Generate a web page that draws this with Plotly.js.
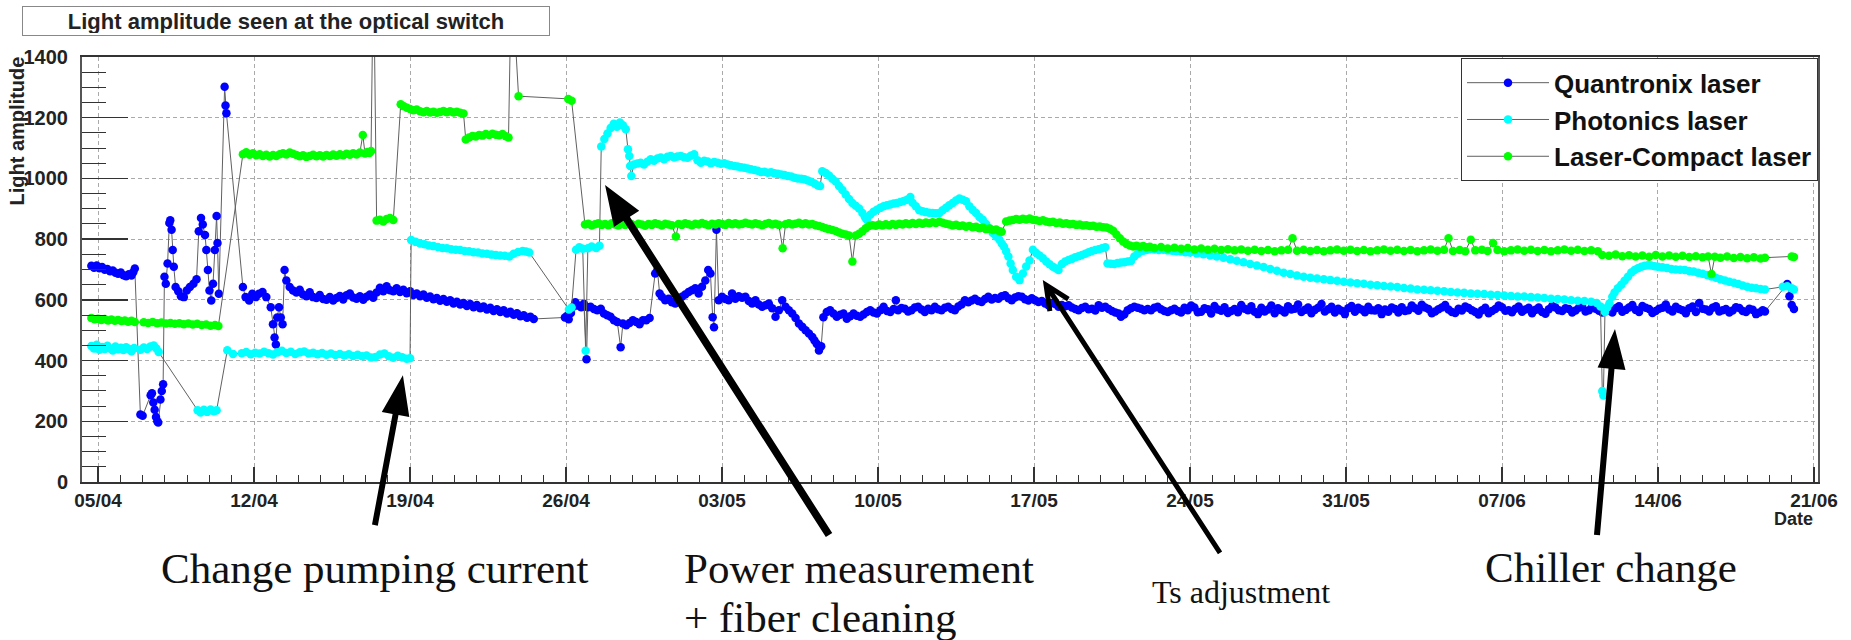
<!DOCTYPE html>
<html><head><meta charset="utf-8">
<script src="https://cdn.plot.ly/plotly-3.0.1.min.js"></script>
<style>html,body{margin:0;padding:0;background:#fff}#chart{width:1851px;height:640px}</style>
</head><body><div id="chart"></div>
<script>
// ---------- DATA (day offset from 05/04, light amplitude) ----------
const startDate = [2010, 3, 5];           // 05/04
const weekTickDays = [0,7,14,21,28,35,42,49,56,63,70,77];
const weekTickText = ['05/04','12/04','19/04','26/04','03/05','10/05','17/05','24/05','31/05','07/06','14/06','21/06'];
const ampTicks = [0,200,400,600,800,1000,1200,1400];
const seriesNames = ['Quantronix laser','Photonics laser','Laser-Compact laser'];

const quantronix = [
[-0.30,712],[-0.18,706],[-0.06,713],[0.06,704],[0.18,708],[0.30,699],[0.42,702],[0.54,694],[0.66,697],[0.78,689],[0.90,686],[1.02,690],[1.14,681],[1.26,678],[1.38,684],[1.50,680],[1.58,691],[1.65,703],
[1.90,222],[2.00,218],[2.36,286],[2.42,292],[2.48,262],[2.54,238],[2.60,214],[2.66,200],[2.70,196],[2.80,272],[2.86,300],[2.92,322],
[2.98,676],[3.04,653],[3.12,720],[3.20,853],[3.24,862],[3.30,831],[3.35,764],[3.40,709],[3.48,642],[3.60,628],[3.72,612],[3.85,609],[3.98,631],[4.12,642],[4.28,653],[4.42,668],[4.52,826],[4.62,870],[4.70,848],[4.80,814],[4.86,764],[4.93,698],[5.00,631],[5.08,598],[5.16,653],[5.24,764],[5.32,876],[5.36,787],[5.42,620],[5.68,1302],[5.72,1240],[5.76,1215],
[6.50,642],[6.62,609],[6.78,598],[6.92,620],[7.08,609],[7.22,620],[7.38,626],[7.55,609],[7.75,576],[7.85,520],[7.92,476],[7.98,453],[8.04,542],[8.12,576],[8.20,542],[8.28,520],[8.37,698],[8.45,664],[8.60,642],[8.75,631],[8.90,624],[9.05,633],[9.20,618],[9.35,612],[9.50,625],[9.65,609],[9.80,606],[9.95,616],[10.10,603],[10.25,600],[10.40,609],[10.55,598],[10.70,606],[10.85,613],[11.00,601],[11.15,615],[11.30,621],[11.45,608],[11.60,604],[11.75,612],[11.90,600],[12.05,610],[12.20,618],[12.35,607],[12.50,624],[12.65,640],[12.80,628],[12.95,645],[13.10,632],[13.25,628],[13.40,638],[13.55,626],[13.70,633],[13.85,622],[14.00,628],[14.15,616],[14.30,621],[14.45,612],[14.60,618],[14.75,607],[14.90,611],[15.05,602],[15.20,606],[15.35,597],[15.50,603],[15.65,594],[15.80,599],[15.95,588],[16.10,594],[16.25,585],[16.40,590],[16.55,580],[16.70,586],[16.85,576],[17.00,583],[17.15,572],[17.30,578],[17.45,568],[17.60,574],[17.75,563],[17.90,569],[18.05,560],[18.20,566],[18.35,555],[18.50,561],[18.65,551],[18.80,556],[18.95,546],[19.10,549],[19.25,541],[19.40,544],[19.55,537],
[20.95,542],[21.05,548],[21.12,536],[21.22,557],[21.32,577],[21.42,592],[21.55,581],[21.68,576],[21.80,587],[21.92,404],[21.98,576],[22.10,577],[22.25,570],[22.40,566],[22.56,571],[22.70,555],[22.85,549],[23.00,544],[23.15,533],[23.30,527],[23.45,444],[23.55,522],[23.70,516],[23.85,524],[24.00,533],[24.15,527],[24.30,520],[24.45,533],[24.60,533],[24.75,540],[25.00,687],[25.10,698],[25.20,621],[25.30,610],[25.45,599],[25.60,604],[25.75,592],[25.90,588],[26.05,596],[26.20,610],[26.35,618],[26.50,626],[26.65,632],[26.80,638],[26.95,621],[27.10,643],[27.25,664],[27.38,698],[27.48,687],[27.58,543],[27.64,510],[27.75,831],[27.85,599],[28.00,610],[28.15,603],[28.30,599],[28.45,621],[28.60,604],[28.75,612],[28.90,607],[29.05,610],[29.20,596],[29.35,588],[29.50,599],[29.65,585],[29.80,577],[29.95,582],[30.10,588],[30.25,572],[30.40,544],[30.55,566],[30.70,599],[30.85,577],[31.00,566],[31.15,555],[31.30,540],[31.45,522],[31.60,511],[31.75,500],[31.90,489],[32.05,478],[32.15,466],[32.25,455],[32.35,433],[32.45,447],[32.55,543],[32.70,560],[32.85,566],[33.00,555],[33.15,544],[33.30,551],[33.45,555],[33.60,538],[33.75,546],[33.90,555],[34.05,548],[34.20,544],[34.35,552],[34.50,560],[34.65,566],[34.80,558],[34.95,555],[35.10,566],[35.25,577],[35.40,563],[35.55,560],[35.70,570],[35.80,599],[35.90,566],[36.05,573],[36.20,571],[36.35,562],[36.50,566],[36.65,575],[36.80,577],[36.95,568],[37.10,560],[37.25,571],[37.40,566],[37.55,577],[37.70,569],[37.85,566],[38.00,574],[38.15,577],[38.30,570],[38.45,566],[38.60,578],[38.75,585],[38.90,599],[39.05,592],[39.20,598],[39.35,604],[39.50,596],[39.65,593],[39.80,603],[39.95,610],[40.10,601],[40.25,606],[40.40,604],[40.55,612],[40.70,615],[40.85,605],[41.00,599],[41.15,608],[41.30,612],[41.45,610],[41.60,602],[41.75,598],[41.90,605],[42.05,599],[42.20,593],[42.35,596],[42.50,588],[42.65,582],[42.80,590],[42.95,586],[43.10,577],[43.25,583],[43.40,579],[43.55,582],[43.70,575],[43.85,570],[44.00,566],[44.15,573],[44.30,577],[44.45,569],[44.60,571],[44.75,565],[44.90,582],[45.05,574],[45.20,577],[45.35,570],[45.50,563],[45.65,558],[45.80,555],[45.90,544],[46.05,552],[46.20,566],[46.35,572],[46.50,577],[46.65,574],[46.80,571],[46.95,566],[47.10,570],[47.25,566],[47.40,574],[47.55,577],[47.70,569],[47.85,563],[48.00,560],[48.15,566],
[48.30,571],[48.45,563],[48.60,558],[48.75,574],[48.90,566],[49.05,581],[49.20,575],[49.35,559],[49.50,561],[49.65,572],[49.80,569],[49.95,555],[50.10,580],[50.25,568],[50.40,564],[50.55,576],[50.70,557],[50.85,563],[51.00,570],[51.15,559],[51.30,583],[51.45,571],[51.60,566],[51.75,579],[51.90,561],[52.05,553],[52.20,574],[52.35,562],[52.50,568],[52.65,581],[52.80,556],[52.95,572],[53.10,566],[53.25,558],[53.40,579],[53.55,568],[53.70,571],[53.85,585],[54.00,560],[54.15,567],[54.30,575],[54.45,556],[54.60,567],[54.75,574],[54.90,586],[55.05,562],[55.20,569],[55.35,577],[55.50,558],[55.65,571],[55.80,564],[55.95,553],[56.10,572],[56.25,580],[56.40,561],[56.55,574],[56.70,568],[56.85,559],[57.00,577],[57.15,566],[57.30,565],[57.45,572],[57.60,553],[57.75,568],[57.90,561],[58.05,575],[58.20,570],[58.35,558],[58.50,576],[58.65,563],[58.80,566],[58.95,581],[59.10,572],[59.25,564],[59.40,584],[59.55,575],[59.70,570],[59.85,556],[60.00,562],[60.15,569],[60.30,575],[60.45,583],[60.60,568],[60.75,560],[60.90,557],[61.05,571],[61.20,565],[61.35,578],[61.50,573],[61.65,566],[61.80,560],[61.95,552],[62.10,566],[62.25,574],[62.40,556],[62.55,563],[62.70,570],[62.85,581],[63.00,576],[63.15,564],[63.30,566],[63.45,559],[63.60,571],[63.75,578],[63.90,561],[64.05,568],[64.20,574],[64.35,556],[64.50,567],[64.65,575],[64.80,560],[64.95,554],[65.10,569],[65.25,580],[65.40,575],[65.55,566],[65.70,563],[65.85,572],[66.00,570],[66.15,558],[66.30,565],[66.45,574],[66.60,577],[66.75,562],[66.90,566],[67.05,579],[67.20,571],[67.35,564],[67.50,558],
[67.65,569],[67.80,566],[67.95,558],[68.10,572],[68.25,579],[68.40,561],[68.55,567],[68.70,575],[68.85,583],[69.00,567],[69.15,560],[69.30,580],[69.45,574],[69.60,570],[69.75,557],[69.90,563],[70.05,571],[70.20,574],[70.35,585],[70.50,568],[70.65,562],[70.80,577],[70.95,570],[71.10,566],[71.25,556],[71.40,572],[71.55,578],[71.70,560],[71.85,590],[72.00,571],[72.15,568],[72.30,562],[72.45,574],[72.60,579],[72.75,562],[72.90,566],[73.05,570],[73.20,558],[73.35,565],[73.50,576],[73.65,573],[73.80,563],[73.95,560],[74.10,571],[74.25,567],[74.40,553],[74.55,558],[74.70,566],[74.80,562],
[75.8,652],[75.9,612],[76.0,583],[76.1,570]
];

const photonics = [
[-0.30,448],[-0.18,440],[-0.06,452],[0.06,436],[0.18,445],[0.30,438],[0.42,449],[0.54,440],[0.66,433],[0.78,446],[0.90,437],[1.02,442],[1.14,435],[1.26,444],[1.38,438],[1.50,431],[1.62,441],
[1.90,436],[2.05,443],[2.20,438],[2.35,446],[2.50,450],[2.62,440],[2.72,428],
[4.47,236],[4.60,229],[4.75,238],[4.90,231],[5.05,239],[5.20,233],[5.32,236],
[5.80,434],[6.06,422],
[6.45,424],[6.65,428],[6.85,421],[7.05,426],[7.25,423],[7.45,429],[7.65,424],[7.85,420],[8.05,427],[8.25,432],[8.45,425],[8.65,429],[8.85,422],[9.05,427],[9.25,430],[9.45,423],[9.65,426],[9.85,421],[10.05,425],[10.25,419],[10.45,423],[10.65,418],[10.85,422],[11.05,417],[11.25,421],[11.45,415],[11.65,419],[11.85,414],[12.05,417],[12.25,410],[12.45,412],[12.65,420],[12.85,423],[13.05,414],[13.25,409],[13.45,416],[13.65,411],[13.85,406],[14.00,408],
[14.05,797],[14.25,791],[14.45,786],[14.65,783],[14.85,779],[15.05,777],[15.25,774],[15.45,771],[15.65,770],[15.85,767],[16.05,765],[16.25,764],[16.45,761],[16.65,760],[16.85,757],[17.05,756],[17.25,753],[17.45,752],[17.65,749],[17.85,748],[18.05,746],[18.25,745],[18.45,743],[18.65,752],[18.85,758],[19.05,761],[19.20,759],[19.35,756],
[21.13,568],[21.25,575],[21.45,765],[21.60,773],[21.75,768],[21.88,432],[21.98,770],[22.15,776],[22.35,771],[22.50,778],[22.58,1105],[22.72,1130],[22.86,1148],[23.00,1166],[23.14,1180],[23.28,1170],[23.42,1184],[23.55,1175],[23.68,1162],[23.78,1096],[23.84,1074],[23.88,1041],[23.93,1008],[24.05,1046],[24.20,1049],[24.35,1052],[24.50,1046],[24.65,1055],[24.80,1063],[24.95,1058],[25.10,1066],[25.25,1069],[25.40,1063],[25.55,1071],[25.70,1074],[25.85,1069],[26.00,1072],[26.15,1074],[26.30,1070],[26.45,1068],[26.60,1075],[26.75,1080],[26.90,1060],[27.05,1052],[27.20,1058],[27.35,1056],[27.50,1050],[27.65,1054],[27.80,1052],[27.95,1048],[28.10,1050],[28.25,1046],[28.40,1043],[28.55,1041],[28.70,1039],[28.85,1037],[29.00,1035],[29.15,1033],[29.30,1030],[29.45,1028],[29.60,1025],[29.75,1021],[29.90,1022],[30.05,1019],[30.20,1020],[30.35,1017],[30.50,1015],[30.65,1013],[30.80,1011],[30.95,1008],[31.10,1006],[31.25,1002],[31.40,1000],[31.55,999],[31.70,997],[31.85,993],[32.00,989],[32.15,983],[32.30,977],[32.40,975],
[32.50,1024],[32.65,1018],[32.80,1010],[32.95,999],[33.10,990],[33.25,975],[33.40,962],[33.55,947],[33.70,932],[33.85,919],[34.00,910],[34.15,901],[34.30,886],[34.42,872],[34.50,864],[34.65,880],[34.80,890],[34.95,897],[35.10,903],[35.25,908],[35.40,912],[35.55,914],[35.70,917],[35.85,919],[36.00,922],[36.15,926],[36.30,930],[36.45,939],[36.55,920],[36.70,908],[36.85,895],[37.00,892],[37.15,889],[37.30,887],[37.45,886],[37.60,885],[37.75,886],[37.90,895],[38.05,903],[38.20,912],[38.35,919],[38.50,927],[38.65,934],[38.80,930],[38.95,925],[39.10,908],[39.25,896],[39.40,886],[39.55,873],[39.70,864],[39.85,850],[40.00,836],[40.15,820],[40.30,809],[40.45,798],[40.55,786],[40.65,776],[40.75,760],[40.85,743],[40.95,720],[41.05,698],[41.20,676],[41.35,665],[41.50,687],[41.65,710],[41.80,730],[41.95,765],[42.10,754],[42.25,746],[42.40,737],[42.55,726],[42.70,717],[42.85,709],[43.00,703],[43.10,698],[43.25,718],[43.40,726],[43.55,731],[43.70,735],[43.85,740],[44.00,744],[44.15,748],[44.30,752],[44.45,757],[44.60,761],[44.75,764],[44.90,767],[45.05,770],[45.20,773],[45.30,720],[45.45,719],[45.60,718],[45.75,721],[45.90,723],[46.05,724],[46.20,726],[46.35,728],[46.50,743],[46.65,752],[46.75,759],[46.90,762],[47.05,764],[47.20,767],[47.40,766],[47.60,764],[47.80,765],[48.00,763],[48.20,762],[48.40,760],[48.60,759],[48.80,757],
[49.0,756],[49.3,753],[49.6,750],[49.9,746],[50.2,743],[50.5,739],[50.8,734],[51.1,729],[51.4,724],[51.7,718],[52.0,713],[52.3,708],[52.6,702],[52.9,696],[53.2,689],[53.5,685],[53.8,680],[54.1,676],[54.4,673],[54.7,670],[55.0,668],[55.3,665],[55.6,663],[55.9,660],[56.2,657],[56.5,655],[56.8,653],[57.1,650],[57.4,648],[57.7,646],[58.0,644],[58.3,642],[58.6,639],[58.9,637],[59.2,634],[59.5,633],[59.8,632],[60.1,630],[60.4,628],[60.7,626],[61.0,624],[61.3,623],[61.6,621],[61.9,620],[62.2,619],[62.5,617],[62.8,616],[63.1,614],[63.4,613],[63.7,611],[64.0,611],[64.3,609],[64.6,608],[64.9,606],[65.2,604],[65.5,603],[65.8,601],[66.1,599],[66.4,597],[66.7,596],[67.0,594],[67.25,590],[67.42,578],[67.50,300],[67.55,285],[67.62,560],[67.72,575],[67.82,588],[67.95,610],[68.05,624],[68.2,638],[68.35,650],[68.5,663],[68.65,676],[68.8,690],[68.95,698],[69.1,704],[69.25,709],[69.4,712],[69.55,714],[69.7,713],[69.85,711],[70.0,709],[70.2,707],[70.4,705],[70.6,702],[70.8,700],[71.0,699],[71.2,698],[71.4,695],[71.6,693],[71.8,689],[72.0,686],[72.2,682],[72.4,677],[72.6,673],[72.8,668],[73.0,664],[73.2,660],[73.4,656],[73.6,652],[73.8,647],[74.0,643],[74.2,640],[74.4,638],[74.6,636],[74.8,634],
[75.6,643],[75.8,645],[76.0,638],[76.1,634]
];

const laserCompact = [
[-0.30,540],[-0.15,536],[0.00,538],[0.15,534],[0.30,537],[0.45,532],[0.60,535],[0.75,531],[0.90,534],[1.05,530],[1.20,532],[1.35,528],[1.50,531],[1.65,527],
[2.05,526],[2.25,524],[2.45,527],[2.65,523],[2.85,525],[3.05,522],[3.25,524],[3.45,521],[3.65,523],[3.85,520],[4.05,522],[4.25,519],[4.45,521],[4.65,517],[4.85,519],[5.05,515],[5.25,517],[5.40,514],
[6.50,1080],[6.65,1086],[6.80,1078],[6.95,1083],[7.10,1076],[7.25,1080],[7.40,1074],[7.55,1078],[7.70,1072],[7.85,1077],[8.00,1074],[8.15,1080],[8.30,1083],[8.45,1079],[8.60,1085],[8.75,1081],[8.90,1077],[9.05,1073],[9.20,1076],[9.35,1071],[9.50,1074],[9.65,1078],[9.80,1073],[9.95,1076],[10.10,1072],[10.25,1077],[10.40,1074],[10.55,1079],[10.70,1075],[10.85,1080],[11.00,1076],[11.15,1081],[11.30,1078],[11.45,1083],[11.60,1079],[11.75,1085],[11.88,1143],[11.98,1082],[12.08,1087],[12.18,1084],[12.25,1090],
[12.36,1720],
[12.50,861],[12.65,864],[12.80,858],[12.95,866],[13.10,870],[13.25,863],
[13.58,1244],[13.72,1238],[13.86,1233],[14.00,1229],[14.15,1225],[14.30,1227],[14.45,1221],[14.60,1218],[14.75,1222],[14.90,1217],[15.05,1220],[15.20,1216],[15.35,1219],[15.50,1222],[15.65,1218],[15.80,1221],[15.95,1217],[16.10,1220],[16.25,1216],[16.40,1214],
[16.50,1128],[16.65,1135],[16.80,1140],[16.95,1138],[17.10,1143],[17.25,1141],[17.40,1146],[17.55,1143],[17.70,1147],[17.85,1144],[18.00,1142],[18.15,1146],[18.30,1139],[18.42,1135],
[18.55,1680],
[18.87,1271],[21.10,1262],[21.25,1256],
[21.85,848],[22.00,851],[22.15,845],[22.30,849],[22.45,852],[22.60,847],[22.75,850],[22.90,846],[23.05,852],[23.20,848],[23.35,845],[23.50,850],[23.65,847],[23.80,853],[23.95,849],[24.10,846],[24.25,851],[24.40,848],[24.55,844],[24.70,850],[24.85,847],[25.00,852],[25.15,849],[25.30,845],[25.45,851],[25.60,848],[25.75,846],[25.93,809],[26.05,850],[26.20,847],[26.35,852],[26.50,849],[26.65,846],[26.80,851],[26.95,848],[27.10,853],[27.25,849],[27.40,846],[27.55,851],[27.70,848],[27.85,852],[28.00,850],[28.15,847],[28.30,853],[28.45,849],[28.60,852],[28.75,848],[28.90,850],[29.05,854],[29.20,851],[29.35,848],[29.50,852],[29.65,849],[29.80,846],[29.95,850],[30.10,853],[30.25,848],[30.40,851],[30.55,847],[30.72,770],[30.85,849],[31.00,852],[31.15,848],[31.30,851],[31.45,854],[31.60,849],[31.75,852],[31.90,848],[32.05,850],[32.20,846],[32.35,843],[32.50,840],[32.65,836],[32.80,833],[32.95,830],[33.10,827],[33.25,822],[33.40,818],[33.55,815],[33.70,812],[33.85,726],[34.00,812],[34.15,818],[34.30,826],[34.45,836],[34.60,843],[34.75,846],[34.90,844],[35.05,848],[35.20,845],[35.35,849],[35.50,846],[35.65,850],[35.80,847],[35.95,851],[36.10,848],[36.25,852],[36.40,849],[36.55,853],[36.70,850],[36.85,854],[37.00,851],[37.15,855],[37.30,852],[37.45,856],[37.60,853],[37.75,857],[37.90,854],[38.05,851],[38.20,848],[38.35,845],[38.50,847],[38.65,843],[38.80,845],[38.95,841],[39.10,843],[39.25,839],[39.40,841],[39.55,836],[39.70,838],[39.85,833],[40.00,835],[40.15,830],[40.30,832],[40.45,826],[40.55,824],
[40.75,858],[40.90,861],[41.05,863],[41.20,866],[41.35,864],[41.50,867],[41.65,865],[41.80,868],[41.95,864],[42.10,862],[42.25,860],[42.40,862],[42.55,858],[42.70,856],[42.85,857],[43.00,853],[43.15,855],[43.30,851],[43.45,852],[43.60,849],[43.75,850],[43.90,847],[44.05,848],[44.20,845],[44.35,846],[44.50,843],[44.65,844],[44.80,841],[44.95,842],[45.10,839],[45.25,838],[45.40,834],[45.55,828],[45.70,815],[45.85,803],[46.00,792],[46.15,784],[46.30,779],[46.45,776],[46.60,778],[46.75,775],[46.90,777],[47.05,773],[47.20,775],
[47.4,771],[47.7,774],[48.0,769],[48.3,772],[48.6,768],[48.9,771],[49.2,766],[49.5,769],[49.8,765],[50.1,768],[50.4,764],[50.7,767],[51.0,763],[51.3,766],[51.6,762],[51.9,765],[52.2,761],[52.5,764],[52.8,760],[53.1,763],[53.4,765],[53.6,803],[53.8,762],[54.1,765],[54.4,761],[54.7,764],[55.0,760],[55.3,763],[55.6,766],[55.9,762],[56.2,765],[56.5,761],[56.8,764],[57.1,760],[57.4,763],[57.7,766],[58.0,762],[58.3,765],[58.6,761],[58.9,764],[59.2,760],[59.5,763],[59.8,766],[60.1,762],[60.4,765],[60.6,803],[60.8,761],[61.1,764],[61.35,760],[61.6,798],[61.8,763],[62.1,765],[62.35,761],[62.6,787],[62.8,764],[63.1,760],[63.4,763],[63.7,766],[64.0,762],[64.3,765],[64.6,761],[64.9,764],[65.2,760],[65.5,763],[65.8,766],[66.1,762],[66.4,765],[66.7,761],[67.0,763],[67.3,760],
[67.5,748],[67.8,745],[68.1,749],[68.4,744],[68.7,747],[69.0,743],[69.3,746],[69.6,742],[69.9,748],[70.2,743],[70.5,746],[70.8,742],[71.1,745],[71.4,741],[71.7,744],[72.0,740],[72.25,743],[72.4,685],[72.55,742],[72.8,739],[73.1,743],[73.4,738],[73.7,741],[74.0,737],[74.3,740],[74.6,736],[74.8,739],
[76.0,743],[76.1,741]
];

const noteTexts = ['Change pumping current','Power measurement','+ fiber cleaning','Ts adjustment','Chiller change'];

// ---------- helpers ----------
const DAY = 86400000;
const T0 = Date.UTC(startDate[0], startDate[1], startDate[2]);
const toDate = d => new Date(T0 + d * DAY).toISOString().slice(0, 19).replace('T', ' ');
const xRange = [-0.72, 77.18];
const yRange = [0, 1400];
const px = d => (d - xRange[0]) / (xRange[1] - xRange[0]);
const py = v => (v - yRange[0]) / (yRange[1] - yRange[0]);

const colors = ['#0000ff', '#00ffff', '#00ff00'];
const traces = [quantronix, photonics, laserCompact].map((s, i) => ({
  type: 'scatter', mode: 'lines+markers', name: seriesNames[i],
  x: s.map(p => toDate(p[0])), y: s.map(p => p[1]),
  line: {color: '#606060', width: 1},
  marker: {color: colors[i], size: 8.5, line: {width: 0}},
  cliponaxis: true
}));

// arrows: head at (day, value) in data space, tail offset in screen pixels
function arrowShape(hd, hv, dx, dy, L, W, s, open, lw) {
  const tx = dx, ty = -dy;
  const len = Math.hypot(tx, ty), ux = tx / len, uy = ty / len, qx = -uy, qy = ux;
  const bx = ux * L, by = uy * L;
  const f = v => v.toFixed(1);
  const base = {type: 'path', xref: 'paper', yref: 'paper', xsizemode: 'pixel', ysizemode: 'pixel',
    xanchor: px(hd), yanchor: py(hv), layer: 'above'};
  if (!open) {
    const P = [[0,0],[bx+qx*W,by+qy*W],[bx+qx*s,by+qy*s],[tx+qx*s,ty+qy*s],[tx-qx*s,ty-qy*s],[bx-qx*s,by-qy*s],[bx-qx*W,by-qy*W]];
    return Object.assign(base, {path: 'M' + P.map(p => f(p[0]) + ',' + f(p[1])).join('L') + 'Z',
      fillcolor: '#000', line: {width: 0}});
  }
  return Object.assign(base, {path: `M${f(tx)},${f(ty)}L0,0M${f(bx+qx*W)},${f(by+qy*W)}L0,0L${f(bx-qx*W)},${f(by-qy*W)}`,
    fillcolor: 'rgba(0,0,0,0)', line: {color: '#000', width: lw}});
}
const shapes = [
  arrowShape(13.68, 352, -28, 150, 40, 14, 3, false),
  arrowShape(22.75, 978, 224, 350, 40, 15, 3.8, false),
  arrowShape(42.54, 649, 174, 268, 24, 11, 0, true, 5),
  arrowShape(68.07, 504, -18, 206, 40, 14, 3, false)
];

const serif = 'Liberation Serif, Times New Roman, serif';
const sans = 'Liberation Sans, Arial, sans-serif';
const annotations = [
  {text: 'Light amplitude seen at the optical switch', xref: 'paper', yref: 'paper', x: 0.1175, y: 1.0847,
   xanchor: 'center', yanchor: 'middle', showarrow: false, width: 522, height: 24,
   bordercolor: '#888', borderwidth: 1, borderpad: 2, bgcolor: '#fff',
   font: {family: sans, size: 22, color: '#222', weight: 'bold'}},
  {text: 'Light amplitude', xref: 'paper', yref: 'paper', x: -0.038, y: 0.8247, textangle: -90,
   xanchor: 'center', yanchor: 'middle', showarrow: false,
   font: {family: sans, size: 20, color: '#222', weight: 'bold'}},
  {text: 'Date', xref: 'paper', yref: 'paper', x: 0.9983, y: -0.088, xanchor: 'right', yanchor: 'middle',
   showarrow: false, font: {family: sans, size: 18, color: '#222', weight: 'bold'}},
  {text: noteTexts[0], xref: 'paper', yref: 'paper', x: 0.1688, y: -0.2047, xanchor: 'center', yanchor: 'middle',
   showarrow: false, font: {family: serif, size: 43, color: '#111'}},
  {text: noteTexts[1], xref: 'paper', yref: 'paper', x: 0.3456, y: -0.2047, xanchor: 'left', yanchor: 'middle',
   showarrow: false, font: {family: serif, size: 43, color: '#111'}},
  {text: noteTexts[2], xref: 'paper', yref: 'paper', x: 0.3456, y: -0.318, xanchor: 'left', yanchor: 'middle',
   showarrow: false, font: {family: serif, size: 43, color: '#111'}},
  {text: noteTexts[3], xref: 'paper', yref: 'paper', x: 0.6679, y: -0.2588, xanchor: 'center', yanchor: 'middle',
   showarrow: false, font: {family: serif, size: 32, color: '#111'}},
  {text: noteTexts[4], xref: 'paper', yref: 'paper', x: 0.8805, y: -0.2, xanchor: 'center', yanchor: 'middle',
   showarrow: false, font: {family: serif, size: 43, color: '#111'}}
];

const layout = {
  width: 1851, height: 640,
  margin: {l: 82, r: 33, t: 57, b: 158, pad: 0},
  paper_bgcolor: '#fff', plot_bgcolor: '#fff',
  showlegend: true,
  legend: {x: 1, y: 0.997, xanchor: 'right', yanchor: 'top', bgcolor: '#fff', bordercolor: '#333', borderwidth: 1,
    font: {family: sans, size: 26, color: '#111', weight: 'bold'}, itemwidth: 82, tracegroupgap: 0},
  xaxis: {
    type: 'date', range: [toDate(xRange[0]), toDate(xRange[1])],
    tickmode: 'array', tickvals: weekTickDays.map(toDate), ticktext: weekTickText,
    ticks: 'inside', ticklen: 15, tickwidth: 1.5, tickcolor: '#333',
    minor: {tickmode: 'linear', tick0: toDate(0), dtick: DAY, ticks: 'inside', ticklen: 7, tickwidth: 1, tickcolor: '#333', showgrid: false},
    showgrid: true, gridcolor: '#aaaaaa', griddash: '4px,3px', gridwidth: 1,
    showline: true, linecolor: '#333', linewidth: 2, mirror: true, zeroline: false,
    tickfont: {family: sans, size: 19, color: '#222', weight: 'bold'}, ticklabelstandoff: 0
  },
  yaxis: {
    range: yRange, tickmode: 'array', tickvals: ampTicks, ticktext: ampTicks.map(String),
    ticks: 'inside', ticklen: 46, tickwidth: 1.5, tickcolor: '#333',
    minor: {tickmode: 'linear', tick0: 0, dtick: 50, ticks: 'inside', ticklen: 24, tickwidth: 1, tickcolor: '#333', showgrid: false},
    showgrid: true, gridcolor: '#aaaaaa', griddash: '4px,3px', gridwidth: 1,
    showline: true, linecolor: '#555', linewidth: 2, mirror: true, zeroline: false,
    tickfont: {family: 'Liberation Sans Narrow, Arial Narrow, Liberation Sans, sans-serif', size: 20, color: '#222', weight: 'bold'},
    ticklabelstandoff: 8
  },
  shapes: shapes,
  annotations: annotations
};

Plotly.newPlot('chart', traces, layout, {staticPlot: true, displayModeBar: false});
</script>
</body></html>
